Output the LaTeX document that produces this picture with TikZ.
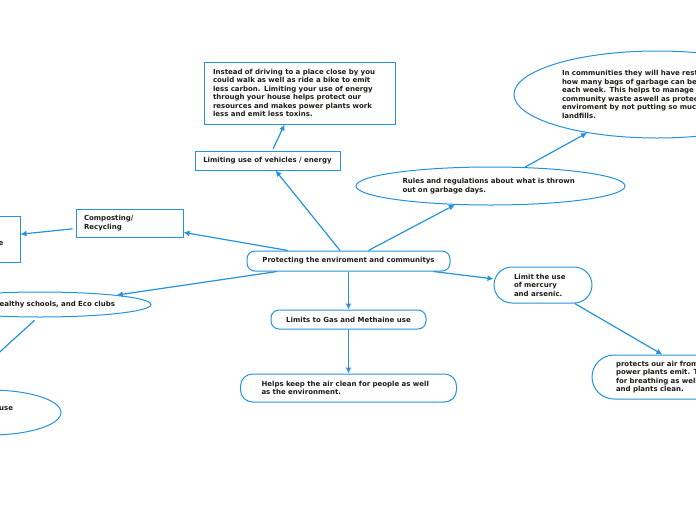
\documentclass[tikz,border=0pt]{standalone}
\usepackage{fontspec}
\setmainfont{DejaVu Sans}
\usetikzlibrary{positioning,arrows.meta,shapes.geometric}
\definecolor{colorline}{RGB}{36,146,222}
\definecolor{colortext}{RGB}{29,29,27}

\begin{document}
\begin{tikzpicture}[
    x=1pt, y=-1pt,
    font={\fontsize{7}{8.5}\selectfont\bfseries},
    base/.style={text=colortext,draw=colorline,line width=1pt,align=left,inner sep=0pt},
    box/.style={base,rectangle},
    pill/.style={base,rectangle,rounded corners=#1},
    oval/.style={base,ellipse},
    link/.style={draw=colorline,line width=1.2pt,-{Latex[length=6pt,width=6pt]}},
]
    \clip (0,0) rectangle (696,520);
    \useasboundingbox (0,0) rectangle (696,520);

    % Nodes
    \node[pill=8pt,minimum width=203pt,minimum height=20pt,align=center] (central) at (348.5,261)
        {Protecting the enviroment and communitys};
    \node[box,minimum width=145pt,minimum height=19pt,align=center] (vehicles) at (267.5,160.5)
        {Limiting use of vehicles / energy};
    \node[box,minimum width=191pt,minimum height=62pt,text width=173pt] (driving) at (299.5,93)
        {Instead of driving to a place close by you\\could walk as well as ride a bike to emit\\less carbon. Limiting your use of energy\\through your house helps protect our\\resources and makes power plants work\\less and emit less toxins.};
    \node[oval,minimum width=269pt,minimum height=38pt,text width=176pt] (rules) at (490.5,186)
        {Rules and regulations about what is thrown\\out on garbage days.};
    \node[oval,minimum width=286pt,minimum height=87pt,text width=190pt] (restrict) at (657,94.5)
        {In communities they will have restrictions on\\how many bags of garbage can be put out\\each week. This helps to manage\\community waste aswell as protect the\\enviroment by not putting so much in\\landfills.};
    \node[box,minimum width=107pt,minimum height=28pt,text width=91pt] (composting) at (129.5,223)
        {Composting/\\Recycling};
    \node[box,minimum width=93pt,minimum height=46pt,text width=64pt,left=55pt of composting,yshift=-16pt] (waste)
        {Less waste\\in landfill space};
    \node[oval,minimum width=222pt,minimum height=25pt,text width=150pt,align=right] (healthy) at (40,304.5)
        {Healthy schools, and Eco clubs};
    \node[oval,minimum width=142pt,minimum height=45pt,text width=95pt] (paper) at (-10,412.5)
        {Reduce paper use\\and water};
    \node[pill=8pt,minimum width=155pt,minimum height=19pt,align=center] (limits) at (348.5,319.5)
        {Limits to Gas and Methaine use};
    \node[pill=12pt,minimum width=216pt,minimum height=28pt,text width=174pt,below=44pt of limits] (helps)
        {Helps keep the air clean for people as well\\as the environment.};
    \node[pill=18pt,minimum width=98pt,minimum height=36pt,text width=58pt] (mercury) at (543,285)
        {Limit the use\\of mercury\\and arsenic.};
    \node[pill=22pt,minimum width=218pt,minimum height=44pt,text width=170pt] (protects) at (701,377)
        {protects our air from the toxins that\\power plants emit. This keeps the air\\for breathing as well as keeping animals\\and plants clean.};

    % Arrows
    \draw[link,shorten <=2pt] (vehicles) -- (driving);
    \draw[link] (central) -- (vehicles);
    \draw[link] (central) -- (rules);
    \draw[link] (rules) -- (restrict);
    \draw[link] (central) -- (composting);
    \draw[link,shorten <=3pt] (composting) -- (waste);
    \draw[link] (central) -- (healthy.7);
    \draw[link,shorten <=4pt] (healthy.-100) -- (paper.150);
    \draw[link] (central) -- (limits);
    \draw[link] (limits) -- (helps);
    \draw[link] (central) -- (mercury);
    \draw[link] (mercury) -- (protects);

\end{tikzpicture}
\end{document}
